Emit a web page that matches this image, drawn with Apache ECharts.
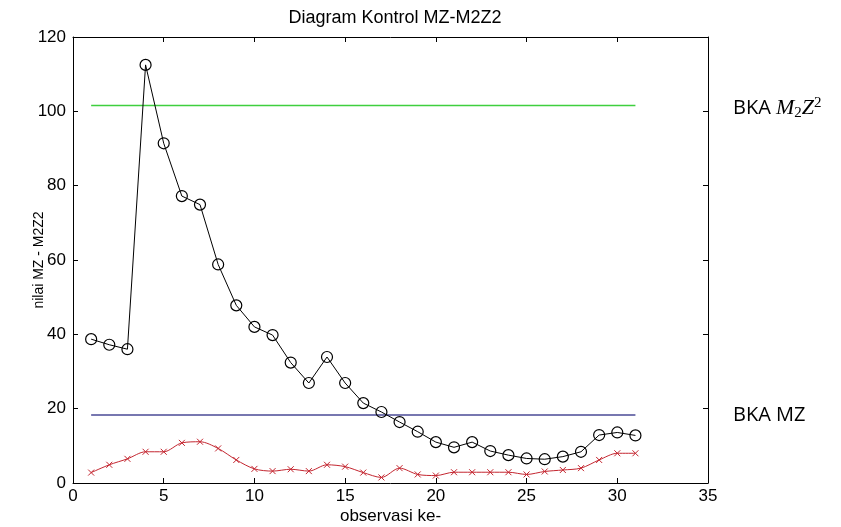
<!DOCTYPE html>
<html>
<head>
<meta charset="utf-8">
<script src="https://cdn.jsdelivr.net/npm/echarts@6/dist/echarts.min.js"></script>
<style>
  html, body { margin: 0; padding: 0; background: #fff; }
  #chart { width: 841px; height: 527px; }
</style>
</head>
<body>
<div id="chart"></div>
<script>
// Observation numbers
const observasi = [1, 2, 3, 4, 5, 6, 7, 8, 9, 10, 11, 12, 13, 14, 15, 16,
  17, 18, 19, 20, 21, 22, 23, 24, 25, 26, 27, 28, 29, 30, 31];

// M2Z2 statistic (black circles)
const nilaiM2Z2 = [38.7, 37.2, 36.0, 112.5, 91.4, 77.2, 74.9, 58.8, 47.8, 42.0,
  39.8, 32.4, 26.9, 33.9, 26.9, 21.5, 19.1, 16.4, 13.8, 11.0, 9.6, 11.0, 8.6,
  7.5, 6.6, 6.4, 7.1, 8.4, 12.9, 13.6, 12.8];

// MZ statistic (red crosses)
const nilaiMZ = [2.8, 4.9, 6.5, 8.4, 8.4, 10.8, 11.1, 9.3, 6.2, 3.8, 3.2, 3.7,
  3.2, 4.9, 4.4, 2.8, 1.5, 4.0, 2.3, 2.0, 2.9, 2.9, 2.9, 2.9, 2.3, 3.1, 3.5,
  4.0, 6.2, 8.0, 8.0];

// Upper control limits
const bkaM2Z2 = 101.6;
const bkaMZ = 18.3;

// Axis ranges
const xMin = 0, xMax = 35, xStep = 5;
const yMin = 0, yMax = 120, yStep = 20;

const limitLine = (v) => [[observasi[0], v], [observasi[observasi.length - 1], v]];

const chart = echarts.init(document.getElementById('chart'));

const sans = 'Liberation Sans, Arial, sans-serif';
const tickFont = { color: '#000', fontFamily: sans, fontSize: 17 };
const axisLine = { show: true, onZero: false, lineStyle: { color: '#000', width: 1 } };
const axisTick = { show: true, inside: true, length: 5, lineStyle: { color: '#000' } };

chart.setOption({
  animation: false,
  backgroundColor: '#fff',
  title: {
    text: 'Diagram Kontrol MZ-M2Z2',
    left: 390, top: 4, textAlign: 'center',
    textStyle: { fontFamily: sans, fontSize: 18, fontWeight: 'normal', color: '#000' }
  },
  grid: { left: 73, right: 133, top: 37, bottom: 44, containLabel: false, outerBoundsMode: 'none' },
  xAxis: [{
    type: 'value', min: xMin, max: xMax, interval: xStep,
    name: 'observasi ke-', nameLocation: 'middle', nameGap: 25, nameMoveOverlap: false,
    nameTextStyle: { color: '#000', fontFamily: sans, fontSize: 17 },
    axisLine, axisTick, axisLabel: Object.assign({ margin: 5 }, tickFont),
    splitLine: { show: false }
  }, {
    type: 'value', min: xMin, max: xMax, interval: xStep, position: 'top',
    axisLine, axisTick, axisLabel: { show: false }, splitLine: { show: false }
  }],
  yAxis: [{
    type: 'value', min: yMin, max: yMax, interval: yStep,
    name: 'nilai MZ - M2Z2', nameLocation: 'middle', nameGap: 27, nameRotate: 90, nameMoveOverlap: false,
    nameTextStyle: { color: '#000', fontFamily: sans, fontSize: 14 },
    axisLine, axisTick, axisLabel: Object.assign({ margin: 7 }, tickFont),
    splitLine: { show: false }
  }, {
    type: 'value', min: yMin, max: yMax, interval: yStep, position: 'right',
    axisLine, axisTick, axisLabel: { show: false }, splitLine: { show: false }
  }],
  series: [
    {
      name: 'BKA M2Z2', type: 'line', data: limitLine(bkaM2Z2),
      symbol: 'none', lineStyle: { color: '#3fcf3f', width: 1.5 }, z: 1
    },
    {
      name: 'BKA MZ', type: 'line', data: limitLine(bkaMZ),
      symbol: 'none', lineStyle: { color: '#4a4a96', width: 1.5 }, z: 1
    },
    {
      name: 'M2Z2', type: 'line',
      data: observasi.map((x, i) => [x, nilaiM2Z2[i]]),
      symbol: 'circle', symbolSize: 11,
      itemStyle: { color: 'rgba(255,255,255,0)', borderColor: '#000', borderWidth: 1.2 },
      lineStyle: { color: '#000', width: 1 }, z: 3
    },
    {
      name: 'MZ', type: 'line',
      data: observasi.map((x, i) => [x, nilaiMZ[i]]),
      smooth: 0.3,
      symbol: 'path://M0,0L10,10M10,0L0,10', symbolSize: 6,
      itemStyle: { color: 'rgba(0,0,0,0)', borderColor: '#c42630', borderWidth: 1 },
      lineStyle: { color: '#c42630', width: 1 }, z: 2
    }
  ],
  graphic: [
    {
      type: 'text', x: 733, y: 108,
      style: {
        text: 'BKA {m|M}{s|2}{m|Z}{p|2}',
        font: '20px "Open Sans", sans-serif', fill: '#000', verticalAlign: 'middle',
        rich: {
          m: { fontFamily: 'Liberation Serif', fontStyle: 'italic', fontSize: 22, fill: '#000' },
          s: { fontFamily: 'Liberation Serif', fontSize: 15, verticalAlign: 'bottom', padding: [10, 0, 0, 0], fill: '#000' },
          p: { fontFamily: 'Liberation Serif', fontSize: 15, verticalAlign: 'top', padding: [0, 0, 10, 0], fill: '#000' }
        }
      }
    },
    {
      type: 'text', x: 733, y: 415,
      style: { text: 'BKA MZ', font: '20px "Open Sans", sans-serif', fill: '#000', verticalAlign: 'middle' }
    }
  ]
});
</script>
</body>
</html>
